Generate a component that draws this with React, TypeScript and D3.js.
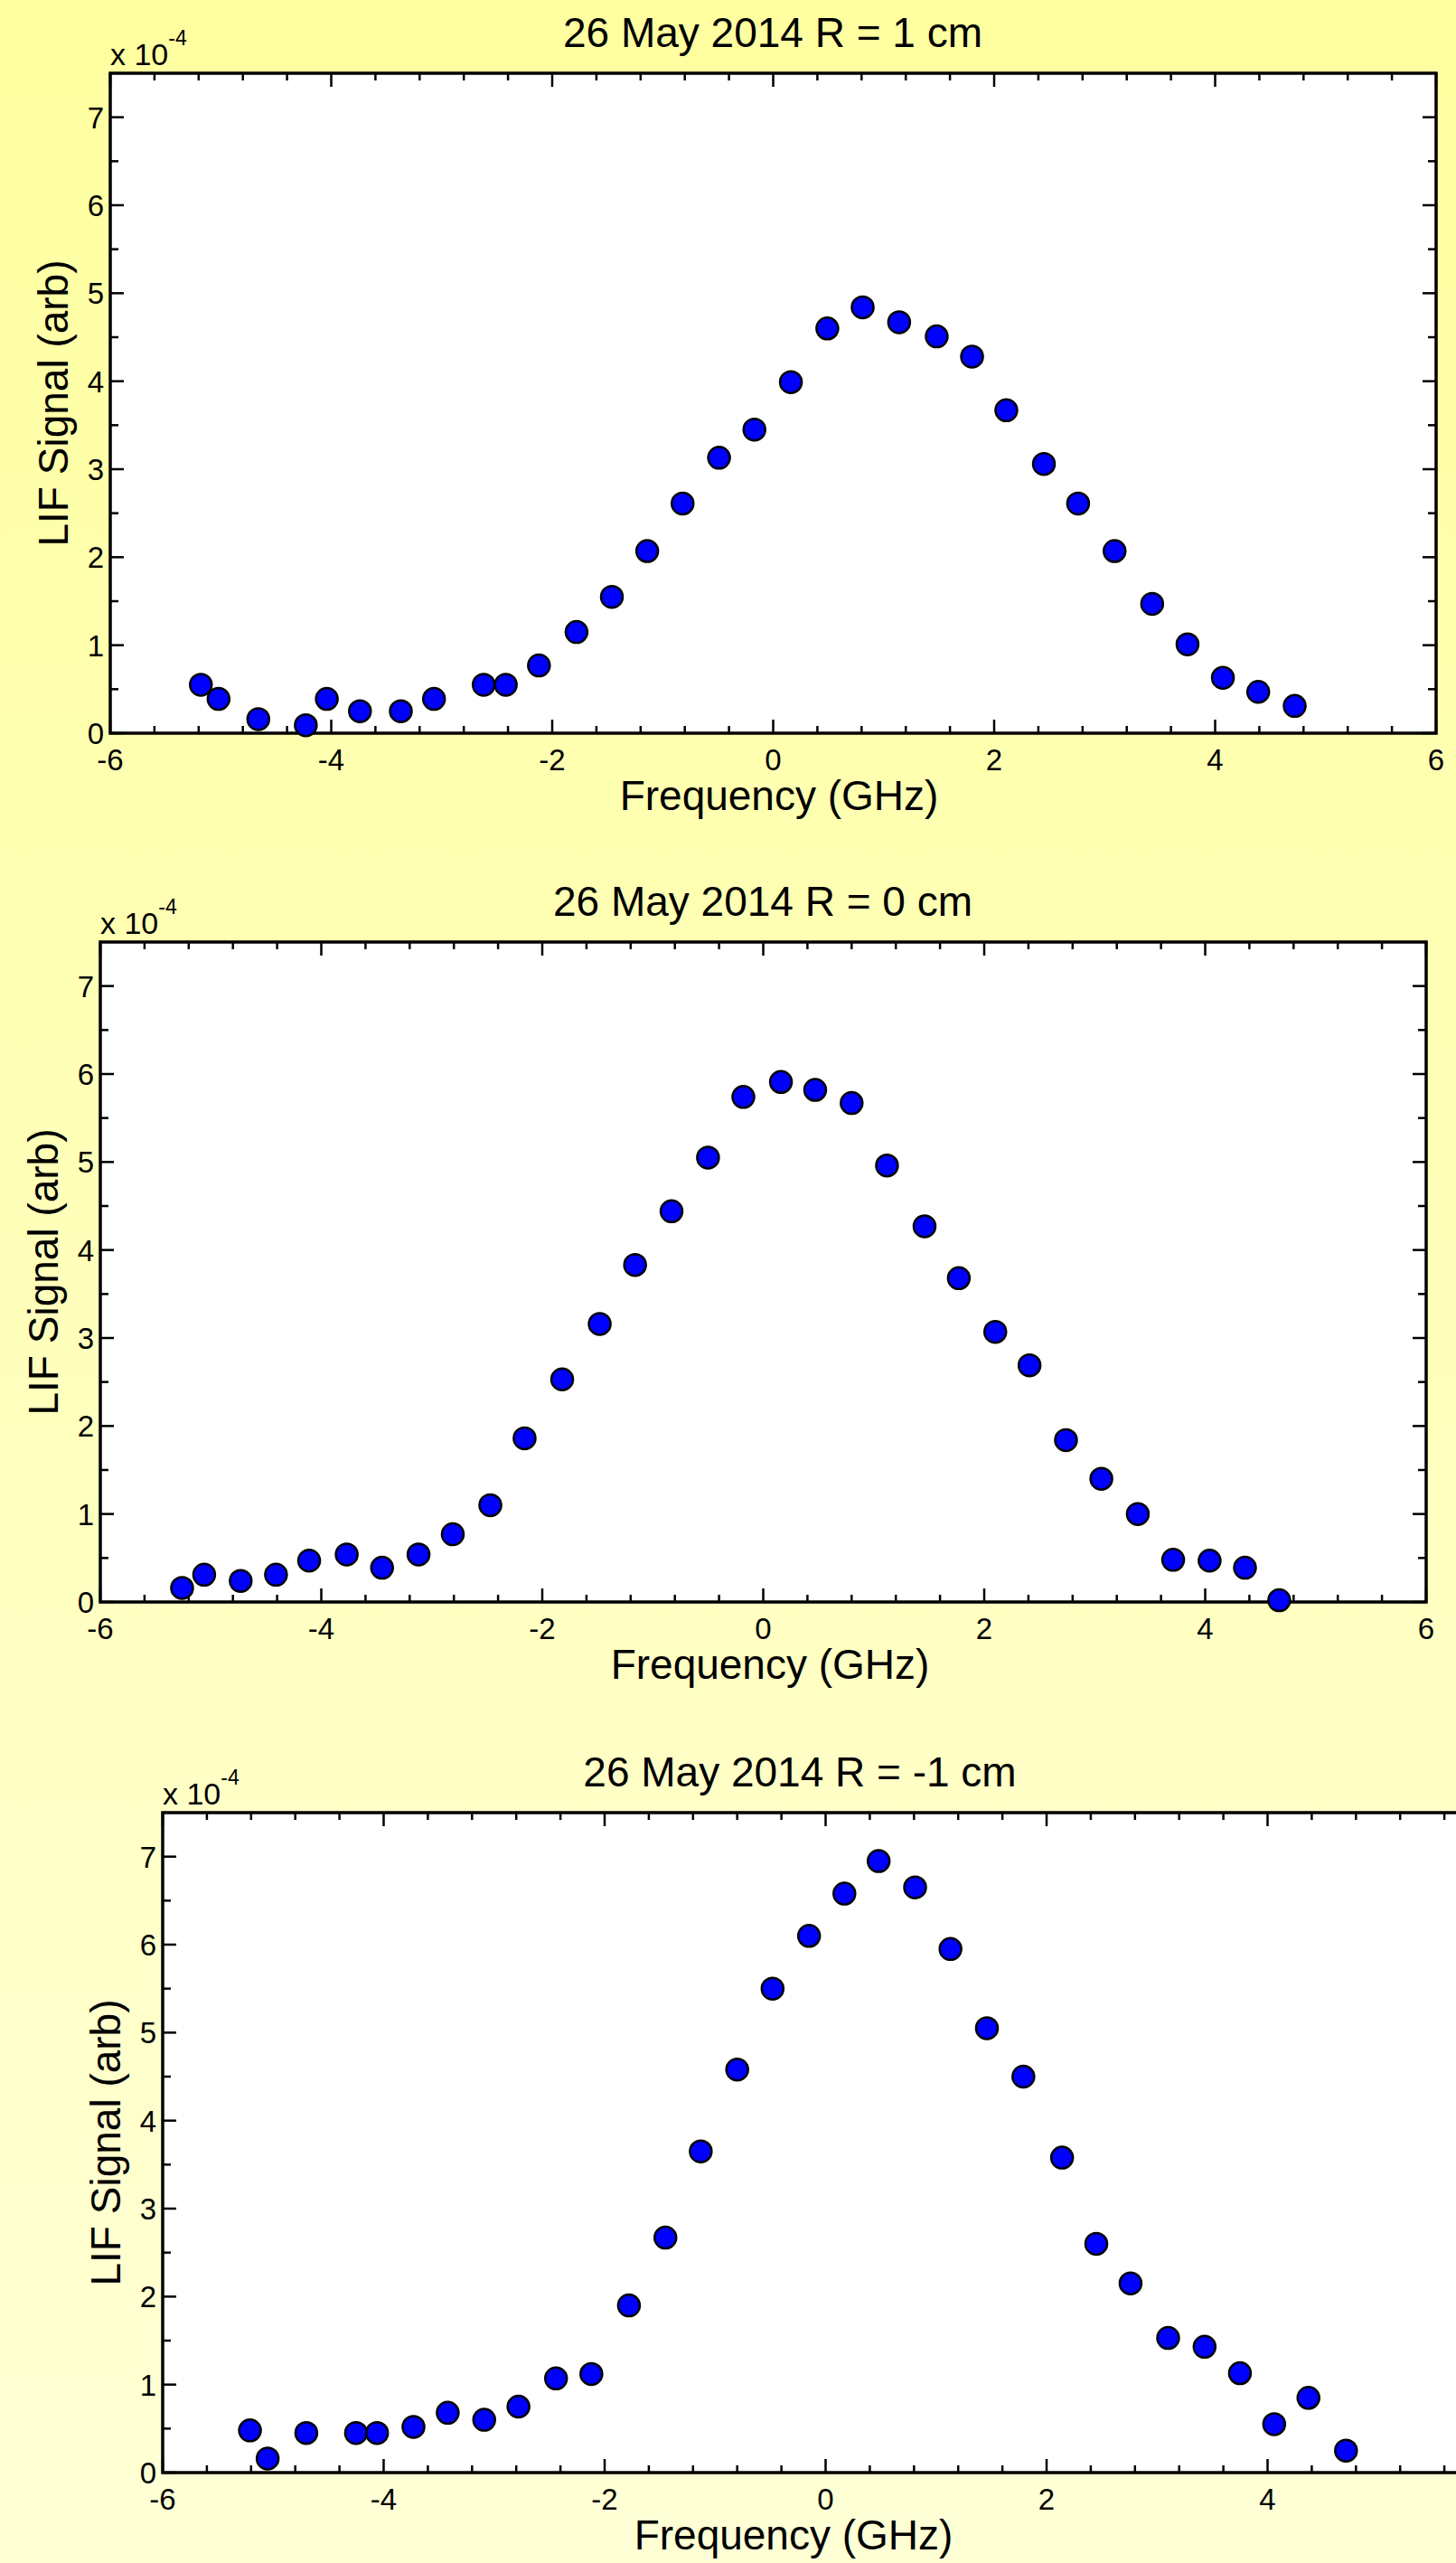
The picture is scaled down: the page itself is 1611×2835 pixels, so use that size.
import React from 'react';
import * as d3 from 'd3';

// Frequency (GHz) and LIF signal (x 1e-4)
const FREQ_R1 = [-5.18, -5.02, -4.66, -4.23, -4.04, -3.74, -3.37, -3.07, -2.62, -2.42, -2.12, -1.78, -1.46, -1.14, -0.82, -0.49, -0.17, 0.16, 0.49, 0.81, 1.14, 1.48, 1.80, 2.11, 2.45, 2.76, 3.09, 3.43, 3.75, 4.07, 4.39, 4.72];
const LIF_R1 = [0.55, 0.39, 0.16, 0.09, 0.39, 0.25, 0.25, 0.39, 0.55, 0.55, 0.77, 1.15, 1.55, 2.07, 2.61, 3.13, 3.45, 3.99, 4.60, 4.84, 4.67, 4.51, 4.28, 3.67, 3.06, 2.61, 2.07, 1.47, 1.01, 0.63, 0.47, 0.31];

const FREQ_R0 = [-5.26, -5.06, -4.73, -4.41, -4.11, -3.77, -3.45, -3.12, -2.81, -2.47, -2.16, -1.82, -1.48, -1.16, -0.83, -0.50, -0.18, 0.16, 0.47, 0.80, 1.12, 1.46, 1.77, 2.10, 2.41, 2.74, 3.06, 3.39, 3.71, 4.04, 4.36, 4.67];
const LIF_R0 = [0.16, 0.31, 0.24, 0.31, 0.47, 0.54, 0.39, 0.54, 0.77, 1.10, 1.86, 2.53, 3.16, 3.83, 4.44, 5.05, 5.74, 5.91, 5.82, 5.67, 4.96, 4.27, 3.68, 3.07, 2.69, 1.84, 1.40, 1.00, 0.48, 0.47, 0.39, 0.02];

const FREQ_RM1 = [-5.21, -5.05, -4.70, -4.25, -4.06, -3.73, -3.42, -3.09, -2.78, -2.44, -2.12, -1.78, -1.45, -1.13, -0.80, -0.48, -0.15, 0.17, 0.48, 0.81, 1.13, 1.46, 1.79, 2.14, 2.45, 2.76, 3.10, 3.43, 3.75, 4.06, 4.37, 4.71];
const LIF_RM1 = [0.48, 0.16, 0.45, 0.45, 0.45, 0.52, 0.68, 0.60, 0.75, 1.07, 1.12, 1.90, 2.67, 3.65, 4.58, 5.50, 6.10, 6.58, 6.95, 6.65, 5.95, 5.05, 4.50, 3.58, 2.60, 2.15, 1.53, 1.43, 1.13, 0.55, 0.85, 0.25];

const TITLES = ['26 May 2014 R = 1 cm', '26 May 2014 R = 0 cm', '26 May 2014 R = -1 cm'];
const X_TICKS = [-6, -4, -2, 0, 2, 4, 6];
const Y_TICKS = [0, 1, 2, 3, 4, 5, 6, 7];
const X_LABEL = 'Frequency (GHz)';
const Y_LABEL = 'LIF Signal (arb)';

const FONT = '"Liberation Sans", Arial, Helvetica, sans-serif';
const W = 1611;
const H = 2835;
const PW = 1467;
const PH = 730;

const panels = [
  { freq: FREQ_R1, lif: LIF_R1, title: TITLES[0], left: 122, top: 81, titleX: 855, labelX: 862 },
  { freq: FREQ_R0, lif: LIF_R0, title: TITLES[1], left: 111, top: 1042, titleX: 844, labelX: 852 },
  { freq: FREQ_RM1, lif: LIF_RM1, title: TITLES[2], left: 180, top: 2005, titleX: 885, labelX: 878 },
];

interface PanelProps {
  freq: number[];
  lif: number[];
  title: string;
  left: number;
  top: number;
  titleX: number;
  labelX: number;
}

const Panel: React.FC<PanelProps> = ({ freq, lif, title, left, top, titleX, labelX }) => {
  const x = d3.scaleLinear().domain([-6, 6]).range([left, left + PW]);
  const y = d3.scaleLinear().domain([0, 7.5]).range([top + PH, top]);
  const bottom = top + PH;
  const right = left + PW;

  const xMinor = d3.range(-6, 6.001, 0.4).filter(v => Math.abs(v / 2 - Math.round(v / 2)) > 1e-6);
  const yMinor = d3.range(0.5, 7.5, 1);
  // the last panel runs past the page edge, so its "6" label is not shown
  const xLabels = X_TICKS.filter(t => x(t) < W - 12);

  return (
    <g>
      <rect x={left} y={top} width={PW} height={PH} fill="#ffffff" />

      {/* x ticks, bottom and top, pointing inward */}
      {X_TICKS.map(t => (
        <g key={'xt' + t} stroke="#000" strokeWidth={2.5}>
          <line x1={x(t)} x2={x(t)} y1={bottom} y2={bottom - 15} />
          <line x1={x(t)} x2={x(t)} y1={top} y2={top + 15} />
        </g>
      ))}
      {xMinor.map((t, i) => (
        <g key={'xm' + i} stroke="#000" strokeWidth={2.5}>
          <line x1={x(t)} x2={x(t)} y1={bottom} y2={bottom - 8} />
          <line x1={x(t)} x2={x(t)} y1={top} y2={top + 8} />
        </g>
      ))}
      {/* y ticks, left and right */}
      {Y_TICKS.map(t => (
        <g key={'yt' + t} stroke="#000" strokeWidth={2.5}>
          <line x1={left} x2={left + 15} y1={y(t)} y2={y(t)} />
          <line x1={right} x2={right - 15} y1={y(t)} y2={y(t)} />
        </g>
      ))}
      {yMinor.map((t, i) => (
        <g key={'ym' + i} stroke="#000" strokeWidth={2.5}>
          <line x1={left} x2={left + 9} y1={y(t)} y2={y(t)} />
          <line x1={right} x2={right - 9} y1={y(t)} y2={y(t)} />
        </g>
      ))}

      <rect x={left} y={top} width={PW} height={PH} fill="none" stroke="#000" strokeWidth={3.5} />

      {freq.map((f, i) => (
        <circle key={'p' + i} cx={x(f)} cy={y(lif[i])} r={12} fill="#0000ff" stroke="#000" strokeWidth={2.5} />
      ))}

      {/* tick labels */}
      {xLabels.map(t => (
        <text key={'xl' + t} x={x(t)} y={bottom + 41} textAnchor="middle" fontSize={33} fontFamily={FONT} fill="#000">
          {t}
        </text>
      ))}
      {Y_TICKS.map(t => (
        <text key={'yl' + t} x={left - 7} y={y(t) + 12} textAnchor="end" fontSize={33} fontFamily={FONT} fill="#000">
          {t}
        </text>
      ))}

      <text x={left} y={top - 9} fontSize={34} fontFamily={FONT} fill="#000">
        x 10<tspan dy={-22} fontSize={23}>-4</tspan>
      </text>

      <text x={titleX} y={top - 29} textAnchor="middle" fontSize={46} fontFamily={FONT} fill="#000">
        {title}
      </text>
      <text x={labelX} y={bottom + 85} textAnchor="middle" fontSize={46} fontFamily={FONT} fill="#000">
        {X_LABEL}
      </text>
      <text
        transform={`translate(${left - 47},${top + PH / 2}) rotate(-90)`}
        textAnchor="middle"
        fontSize={46}
        fontFamily={FONT}
        fill="#000"
      >
        {Y_LABEL}
      </text>
    </g>
  );
};

export default function App() {
  return (
    <svg
      width={W}
      height={H}
      viewBox={`0 0 ${W} ${H}`}
      style={{ position: 'absolute', left: 0, top: 0, display: 'block' }}
    >
      <defs>
        <linearGradient id="bg" x1="0" y1="0" x2="0" y2="1">
          <stop offset="0%" stopColor="#ffffa0" />
          <stop offset="100%" stopColor="#ffffd6" />
        </linearGradient>
      </defs>
      <rect x={0} y={0} width={W} height={H} fill="url(#bg)" />
      {panels.map((p, i) => (
        <Panel key={i} {...p} />
      ))}
    </svg>
  );
}
